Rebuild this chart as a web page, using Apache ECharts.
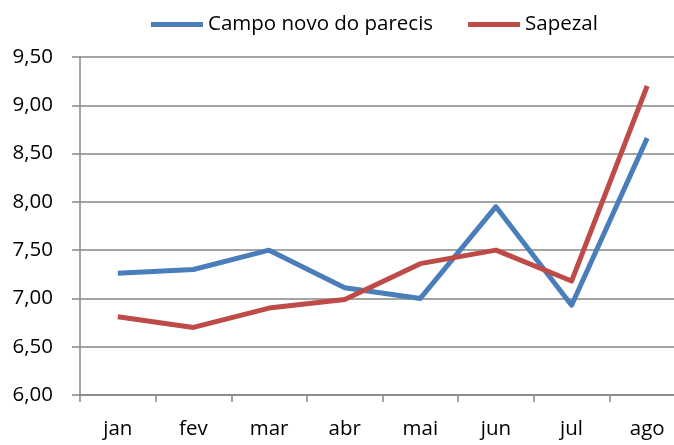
<!DOCTYPE html>
<html><head><meta charset="utf-8">
<script src="https://cdn.jsdelivr.net/npm/echarts@6/dist/echarts.min.js"></script>
<style>html,body{margin:0;padding:0;background:#fff;overflow:hidden;width:674px;height:445px}#c{width:690px;height:445px}</style>
</head><body><div id="c"></div>
<script>
const categories = ['jan','fev','mar','abr','mai','jun','jul','ago'];
const campoNovo = [7.26, 7.30, 7.50, 7.11, 7.00, 7.95, 6.93, 8.66];
const sapezal = [6.81, 6.70, 6.90, 6.99, 7.36, 7.50, 7.18, 9.20];
const seriesNames = ['Campo novo do parecis', 'Sapezal'];
const yMin = 6.0, yMax = 9.5, yStep = 0.5;

const font = 'Open Sans';
const fs = 20.5;
const chart = echarts.init(document.getElementById('c'), null, {renderer:'canvas'});
chart.setOption({
  animation:false,
  backgroundColor:'#fff',
  legend:{
    top:9, left:146,
    icon:'rect',
    itemWidth:52, itemHeight:5, itemGap:35,
    textStyle:{fontFamily:font, fontSize:fs, color:'#000'},
    data:seriesNames
  },
  grid:{left:80, width:605, top:57, height:338, containLabel:false},
  xAxis:{
    type:'category', data:categories, boundaryGap:true,
    axisLine:{lineStyle:{color:'#868686', width:1.5}},
    axisTick:{show:true, length:7, lineStyle:{color:'#868686', width:1.5}},
    axisLabel:{fontFamily:font, fontSize:fs, color:'#000', margin:24}
  },
  yAxis:{
    type:'value', min:yMin, max:yMax, interval:yStep,
    axisLine:{show:true, lineStyle:{color:'#868686', width:1.5}},
    axisTick:{show:true, length:8, lineStyle:{color:'#868686', width:1.5}},
    splitLine:{lineStyle:{color:'#868686', width:1.5}},
    axisLabel:{fontFamily:font, fontSize:fs, color:'#000', margin:27,
      formatter:v=>v.toFixed(2).replace('.',',')}
  },
  series:[
    {name:seriesNames[0], type:'line', data:campoNovo, symbol:'none',
     lineStyle:{color:'#4a7ebb', width:5, join:'round'}, itemStyle:{color:'#4a7ebb'}},
    {name:seriesNames[1], type:'line', data:sapezal, symbol:'none',
     lineStyle:{color:'#be4b48', width:5, join:'round'}, itemStyle:{color:'#be4b48'}}
  ]
});
</script></body></html>
